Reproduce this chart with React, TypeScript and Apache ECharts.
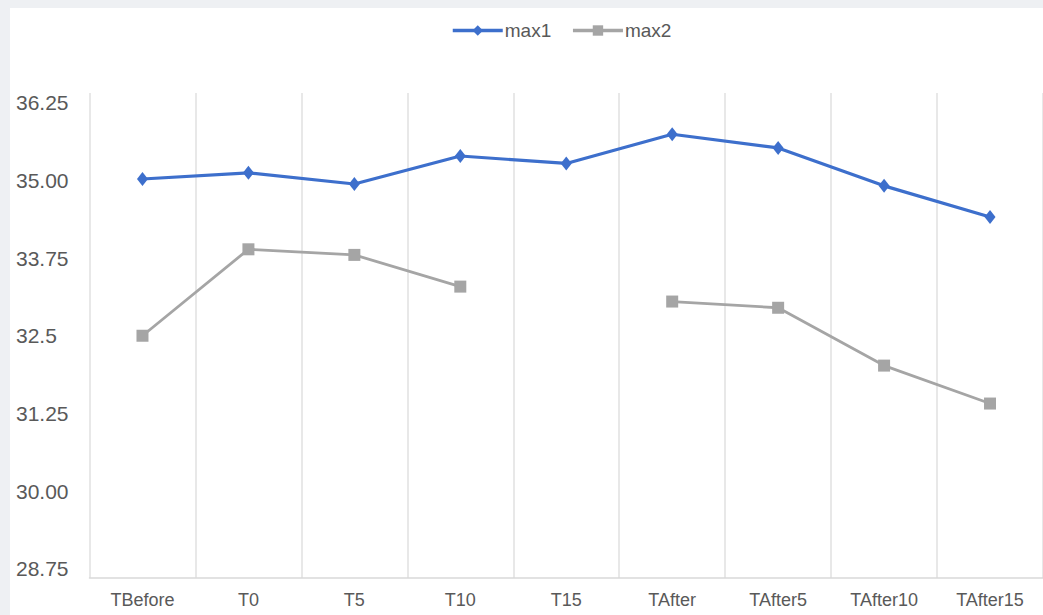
import React, { useEffect, useRef } from "react";
import * as echarts from "echarts";

const categories = ["TBefore", "T0", "T5", "T10", "T15", "TAfter", "TAfter5", "TAfter10", "TAfter15"];
const max1 = [35.02, 35.12, 34.94, 35.39, 35.27, 35.74, 35.52, 34.91, 34.41];
const max2 = [32.5, 33.89, 33.8, 33.29, null, 33.05, 32.95, 32.02, 31.41];
const yTickValues = [28.75, 30, 31.25, 32.5, 33.75, 35, 36.25];
const yTickLabels = ["28.75", "30.00", "31.25", "32.5", "33.75", "35.00", "36.25"];

export default function App() {
  const ref = useRef<HTMLDivElement>(null);
  useEffect(() => {
    if (!ref.current) return;
    const chart = echarts.init(ref.current, undefined, { renderer: "svg" });
    const labelFor = (v: number) => {
      let best = 0;
      for (let i = 1; i < yTickValues.length; i++) {
        if (Math.abs(yTickValues[i] - v) < Math.abs(yTickValues[best] - v)) best = i;
      }
      return yTickLabels[best];
    };
    const font = "Liberation Sans, Arial, sans-serif";
    chart.setOption({
      animation: false,
      backgroundColor: "#eef0f3",
      graphic: [
        {
          type: "rect",
          z: -10,
          silent: true,
          shape: { x: 10, y: 8, width: 1040, height: 620 },
          style: { fill: "#ffffff" },
        },
      ],
      legend: {
        left: 446,
        top: 16,
        itemWidth: 50,
        itemHeight: 13,
        itemGap: 20,
        textStyle: { fontSize: 19, color: "#595959", fontFamily: font, padding: [0, 0, 0, -3] },
        data: [
          { name: "max1", lineStyle: { width: 3.5 } },
          { name: "max2", lineStyle: { width: 3.5 } },
        ],
      },
      grid: { left: 89.5, top: 93, width: 957.6, height: 485, containLabel: false },
      xAxis: {
        type: "category",
        data: categories,
        boundaryGap: true,
        axisLine: { show: true, lineStyle: { color: "#d9d9d9", width: 1.5 } },
        axisTick: { show: false },
        splitLine: { show: true, lineStyle: { color: "#e0e0e0", width: 1.5 } },
        axisLabel: {
          fontSize: 18,
          color: "#595959",
          margin: 13,
          fontFamily: font,
          interval: 0,
        },
      },
      yAxis: {
        type: "value",
        min: 28.605,
        max: 36.403,
        axisLine: { show: false },
        axisTick: { show: false },
        splitLine: { show: false },
        axisLabel: {
          customValues: yTickValues,
          formatter: (v: number) => labelFor(v),
          align: "left",
          margin: 73.5,
          fontSize: 21,
          color: "#595959",
          fontFamily: font,
        },
      },
      series: [
        {
          name: "max1",
          type: "line",
          data: max1,
          symbol: "diamond",
          symbolSize: [11, 14],
          lineStyle: { color: "#3d6fcc", width: 3.2 },
          itemStyle: { color: "#3d6fcc" },
        },
        {
          name: "max2",
          type: "line",
          data: max2,
          connectNulls: false,
          symbol: "rect",
          symbolSize: 12,
          lineStyle: { color: "#a5a5a5", width: 2.8 },
          itemStyle: { color: "#a5a5a5" },
        },
      ],
    });
    return () => chart.dispose();
  }, []);
  return (
    <div
      ref={ref}
      style={{ position: "fixed", left: 0, top: 0, width: 1043, height: 615 }}
    />
  );
}
